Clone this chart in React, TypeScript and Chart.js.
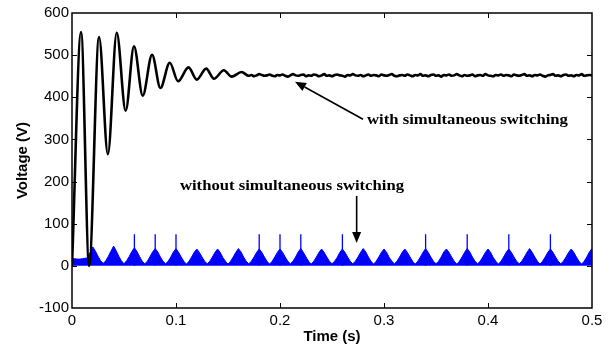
import React, { useEffect, useRef } from 'react';
import { Chart, registerables } from 'chart.js';

Chart.register(...registerables);

// ---- axes ----
const xTicks = [0, 0.1, 0.2, 0.3, 0.4, 0.5];
const xTickLabels = ['0', '0.1', '0.2', '0.3', '0.4', '0.5'];
const yTicks = [-100, 0, 100, 200, 300, 400, 500, 600];
const yTickLabels = ['-100', '0', '100', '200', '300', '400', '500', '600'];
const xTitle = 'Time (s)';
const yTitle = 'Voltage (V)';

// ---- with simultaneous switching (black) ----
const transientTimes = [0, 0.0087, 0.0165, 0.026, 0.0345, 0.043, 0.0516, 0.0596, 0.068, 0.077, 0.085, 0.094, 0.102, 0.112, 0.12, 0.129, 0.1365, 0.146, 0.1535, 0.163];
const transientVolts = [0, 555, 0, 543, 265, 553, 368, 521, 404, 501, 422, 482, 438, 471, 442, 468, 444, 464, 449, 460];
const steadyStart = 0.17;
const steadyStep = 0.0025;
const steadyVolts = [
  451, 453, 450, 452, 455, 453, 451, 452, 454, 451, 450, 453, 452, 454, 451, 449, 452, 455, 452, 451,
  453, 454, 450, 452, 451, 454, 453, 450, 452, 455, 451, 452, 450, 453, 454, 452, 451, 449, 453, 452,
  455, 452, 451, 453, 450, 452, 454, 451, 453, 452, 450, 454, 452, 451, 453, 455, 451, 450, 452, 453,
  451, 454, 452, 450, 453, 452, 455, 451, 452, 450, 453, 454, 451, 452, 449, 453, 452, 454, 451, 452,
  455, 452, 450, 453, 451, 452, 454, 450, 452, 453, 451, 455, 452, 451, 450, 453, 452, 454, 451, 453,
  452, 450, 454, 452, 451, 453, 455, 451, 452, 450, 453, 452, 454, 451, 449, 452, 453, 455, 451, 452,
  450, 453, 454, 451, 452, 450, 453, 452, 455, 451, 452, 453, 452,
];

// ---- without simultaneous switching (blue) ----
const blueStep = 0.0025;
const blueEnvelope = [
  18, 17, 16, 16, 17, 18, 19, 32,
  45, 35, 23, 12, 6, 12, 23, 35,
  47, 36, 23, 12, 5, 12, 22, 34,
  43, 34, 22, 11, 5, 11, 22, 33,
  41, 33, 21, 11, 5, 11, 21, 33,
  41, 32, 21, 11, 4, 11, 21, 32,
  40, 32, 21, 11, 5, 11, 21, 32,
  40, 32, 20, 11, 4, 11, 21, 32,
  41, 33, 21, 11, 5, 11, 21, 32,
  40, 32, 21, 11, 4, 11, 21, 32,
  40, 32, 21, 11, 5, 11, 21, 33,
  41, 32, 21, 11, 4, 11, 21, 32,
  40, 32, 21, 11, 5, 11, 20, 32,
  40, 32, 21, 11, 5, 11, 21, 32,
  41, 33, 21, 11, 4, 11, 21, 32,
  40, 32, 20, 11, 5, 11, 21, 32,
  40, 32, 21, 11, 4, 11, 21, 32,
  41, 32, 21, 11, 5, 11, 21, 33,
  40, 32, 21, 11, 4, 11, 21, 32,
  41, 33, 21, 11, 5, 11, 21, 32,
  40, 32, 20, 11, 4, 11, 21, 32,
  40, 32, 21, 11, 5, 11, 21, 32,
  41, 32, 21, 11, 4, 11, 21, 32,
  40, 32, 21, 11, 5, 11, 21, 32,
  40, 32, 21, 11, 4, 11, 21, 33,
  41,
];
const spikeTimes = [0.06, 0.08, 0.1, 0.18, 0.2, 0.22, 0.26, 0.34, 0.38, 0.42, 0.46];
const spikeHeight = 75;

// ---- annotations (data coordinates) ----
const noteWith = { text: 'with simultaneous switching', t: 0.2837, v: 336, tailT: 0.2798, tailV: 348, tipT: 0.2144, tipV: 437 };
const noteWithout = { text: 'without simultaneous switching', t: 0.1038, v: 179, tailT: 0.2737, tailV: 166, tipT: 0.2737, tipV: 54 };

function drawArrow(ctx: CanvasRenderingContext2D, x1: number, y1: number, x2: number, y2: number) {
  const ang = Math.atan2(y2 - y1, x2 - x1);
  const len = 11;
  const w = 4.5;
  const bx = x2 - len * Math.cos(ang);
  const by = y2 - len * Math.sin(ang);
  ctx.beginPath();
  ctx.moveTo(x1, y1);
  ctx.lineTo(bx, by);
  ctx.lineWidth = 1.6;
  ctx.stroke();
  ctx.beginPath();
  ctx.moveTo(x2, y2);
  ctx.lineTo(bx + w * Math.sin(ang), by - w * Math.cos(ang));
  ctx.lineTo(bx - w * Math.sin(ang), by + w * Math.cos(ang));
  ctx.closePath();
  ctx.fill();
}

function stretchedText(ctx: CanvasRenderingContext2D, text: string, x: number, y: number, sx: number) {
  ctx.save();
  ctx.translate(x, y);
  ctx.scale(sx, 1);
  ctx.textAlign = 'left';
  ctx.textBaseline = 'alphabetic';
  ctx.fillText(text, 0, 0);
  ctx.restore();
}

const overlayPlugin = {
  id: 'overlay',
  afterDraw(chart: any) {
    const { ctx, chartArea: a, scales } = chart;
    const xs = scales.x;
    const ys = scales.y;
    ctx.save();
    ctx.strokeStyle = '#000';
    ctx.fillStyle = '#000';
    // frame
    ctx.lineWidth = 1.5;
    ctx.strokeRect(a.left, a.top, a.right - a.left, a.bottom - a.top);
    // inward ticks
    ctx.lineWidth = 1;
    ctx.beginPath();
    xTicks.slice(1, -1).forEach((v) => {
      const px = Math.round(xs.getPixelForValue(v)) + 0.5;
      ctx.moveTo(px, a.bottom);
      ctx.lineTo(px, a.bottom - 5);
      ctx.moveTo(px, a.top);
      ctx.lineTo(px, a.top + 5);
    });
    yTicks.slice(1, -1).forEach((v) => {
      const py = Math.round(ys.getPixelForValue(v)) + 0.5;
      ctx.moveTo(a.left, py);
      ctx.lineTo(a.left + 5, py);
      ctx.moveTo(a.right, py);
      ctx.lineTo(a.right - 5, py);
    });
    ctx.stroke();
    // axis titles
    ctx.font = 'bold 15px "Liberation Sans", Arial, sans-serif';
    ctx.textAlign = 'center';
    ctx.textBaseline = 'middle';
    ctx.fillText(xTitle, (a.left + a.right) / 2, 337);
    ctx.save();
    ctx.translate(23, (a.top + a.bottom) / 2);
    ctx.rotate(-Math.PI / 2);
    ctx.fillText(yTitle, 0, 0);
    ctx.restore();
    // annotations
    ctx.font = 'bold 14px "Liberation Serif", "Times New Roman", serif';
    [noteWith, noteWithout].forEach((n) => {
      stretchedText(ctx, n.text, xs.getPixelForValue(n.t), ys.getPixelForValue(n.v), 1.19);
      drawArrow(
        ctx,
        xs.getPixelForValue(n.tailT),
        ys.getPixelForValue(n.tailV),
        xs.getPixelForValue(n.tipT),
        ys.getPixelForValue(n.tipV)
      );
    });
    ctx.restore();
  },
};

export default function App() {
  const canvasRef = useRef<HTMLCanvasElement | null>(null);

  useEffect(() => {
    const canvas = canvasRef.current;
    if (!canvas) return;

    const blackData = [
      ...transientTimes.map((t, i) => ({ x: t, y: transientVolts[i] })),
      ...steadyVolts.map((v, i) => ({ x: steadyStart + i * steadyStep, y: v })),
    ];
    const blueData = blueEnvelope.map((v, i) => ({ x: i * blueStep, y: v }));
    const spikeData: any[] = [];
    spikeTimes.forEach((t) => {
      spikeData.push({ x: t, y: 0 }, { x: t, y: spikeHeight }, { x: t, y: null });
    });

    const chart = new Chart(canvas, {
      type: 'line',
      data: {
        datasets: [
          {
            label: 'with simultaneous switching',
            data: blackData,
            borderColor: '#000',
            borderWidth: 2.6,
            pointRadius: 0,
            cubicInterpolationMode: 'monotone',
            fill: false,
          },
          {
            label: 'without simultaneous switching',
            data: blueData,
            borderColor: '#0000ff',
            backgroundColor: '#0000ff',
            borderWidth: 1,
            pointRadius: 0,
            fill: 'origin',
          },
          {
            label: 'spikes',
            data: spikeData,
            borderColor: '#0000ff',
            borderWidth: 1.3,
            pointRadius: 0,
            spanGaps: false,
            fill: false,
          },
        ],
      } as any,
      options: {
        responsive: false,
        animation: false,
        devicePixelRatio: 1,
        layout: { padding: { left: 0, top: 13, right: 18, bottom: 0 } },
        plugins: {
          legend: { display: false },
          tooltip: { enabled: false },
        },
        scales: {
          x: {
            type: 'linear',
            min: 0,
            max: 0.5,
            afterBuildTicks: (s: any) => {
              s.ticks = xTicks.map((v) => ({ value: v }));
            },
            afterFit: (s: any) => {
              s.height = 37;
            },
            grid: { display: false, drawTicks: false },
            border: { display: false },
            ticks: {
              padding: 4,
              maxRotation: 0,
              color: '#000',
              font: { family: '"Liberation Sans", Arial, sans-serif', size: 15 },
              callback: (value: any) => {
                const i = xTicks.indexOf(value);
                return i >= 0 ? xTickLabels[i] : '';
              },
            },
          },
          y: {
            type: 'linear',
            min: -100,
            max: 600,
            afterBuildTicks: (s: any) => {
              s.ticks = yTicks.map((v) => ({ value: v }));
            },
            afterFit: (s: any) => {
              s.width = 72;
            },
            grid: { display: false, drawTicks: false },
            border: { display: false },
            ticks: {
              padding: 3,
              color: '#000',
              font: { family: '"Liberation Sans", Arial, sans-serif', size: 15 },
              callback: (value: any) => {
                const i = yTicks.indexOf(value);
                return i >= 0 ? yTickLabels[i] : '';
              },
            },
          },
        },
      } as any,
      plugins: [overlayPlugin],
    });

    return () => chart.destroy();
  }, []);

  return (
    <div style={{ position: 'absolute', left: 0, top: 0, width: 610, height: 345, background: '#fff' }}>
      <canvas ref={canvasRef} width={610} height={345} style={{ width: 610, height: 345 }} />
    </div>
  );
}
